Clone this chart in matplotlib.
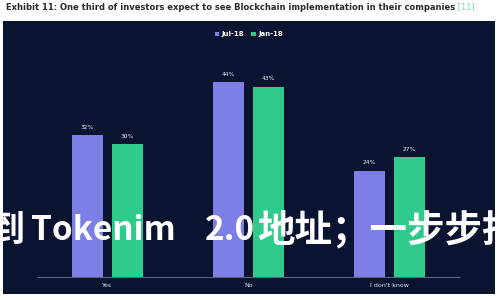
import numpy as np
import matplotlib.pyplot as plt

plt.rcParams['font.family'] = ['DejaVu Sans']

categories = ["Yes", "No", "I don't know"]
jul18 = [32, 44, 24]
jan18 = [30, 43, 27]
series_names = ["Jul-18", "Jan-18"]

title = "Exhibit 11: One third of investors expect to see Blockchain implementation in their companies"
# watermark split in pieces to mimic the wide handwritten spacing
wm_parts = ["到", "Tokenim", "2.0", "地址；一步步指南"]

bg = '#0a1431'
c_jul = '#7d7fe6'
c_jan = '#2fcb8c'

fig = plt.figure(figsize=(5, 3), dpi=100)
fig.patch.set_facecolor('white')

# dark panel: x 3..495 px, y 21..294 px (from top)
ax = fig.add_axes([3 / 500, 6 / 300, 492 / 500, 273 / 300])
ax.set_facecolor(bg)
for s in ax.spines.values():
    s.set_visible(False)
ax.set_xticks([])
ax.set_yticks([])

x = np.arange(len(categories))
w = 0.223
off = 0.142
b1 = ax.bar(x - off, jul18, w, color=c_jul, label=series_names[0])
b2 = ax.bar(x + off, jan18, w, color=c_jan, label=series_names[1])

for bars, vals in ((b1, jul18), (b2, jan18)):
    for b, v in zip(bars, vals):
        ax.text(b.get_x() + b.get_width() / 2, v + 1.2, f"{v}%", color='#e8eaf2',
                ha='center', va='bottom', fontsize=4.2)

ax.hlines(0, -0.5, 2.5, color='#5a6480', lw=0.8)
for xi, c in zip(x, categories):
    ax.text(xi, -1.9, c, color='#e0e3ec', ha='center', va='center', fontsize=4.5)

ax.set_xlim(-0.741, 2.748)
ax.set_ylim(-3.8, 57.8)

leg = ax.legend(loc='upper center', bbox_to_anchor=(0.5, 0.985), ncol=2, frameon=False,
                handlelength=0.6, handleheight=0.6, handletextpad=0.4,
                columnspacing=1.0, labelcolor='white', prop={'weight': 'bold', 'size': 5})

t = fig.text(6 / 500, 1 - 7 / 300, title, fontsize=6.0, fontweight='bold', color='#2a2a2a',
             ha='left', va='center')
ax.annotate(" [11]", xy=(1, 0.5), xycoords=t, fontsize=6.0, color='#7fd6b0',
            ha='left', va='center', annotation_clip=False)

wm_font = ['Noto Sans CJK SC', 'DejaVu Sans']
wy = 1 - 230 / 300
fig.text(24 / 500, wy, wm_parts[0], fontsize=26, fontweight='bold', color='white',
         ha='right', va='center', family=wm_font)
fig.text(31 / 500, wy, wm_parts[1], fontsize=24, fontweight='bold', color='white',
         ha='left', va='center', family=wm_font)
fig.text(205 / 500, wy, wm_parts[2], fontsize=24, fontweight='bold', color='white',
         ha='left', va='center', family=wm_font)
fig.text(257 / 500, wy, wm_parts[3], fontsize=27, fontweight='bold', color='white',
         ha='left', va='center', family=wm_font)

fig.savefig('out.png', dpi=100, facecolor=fig.get_facecolor())
